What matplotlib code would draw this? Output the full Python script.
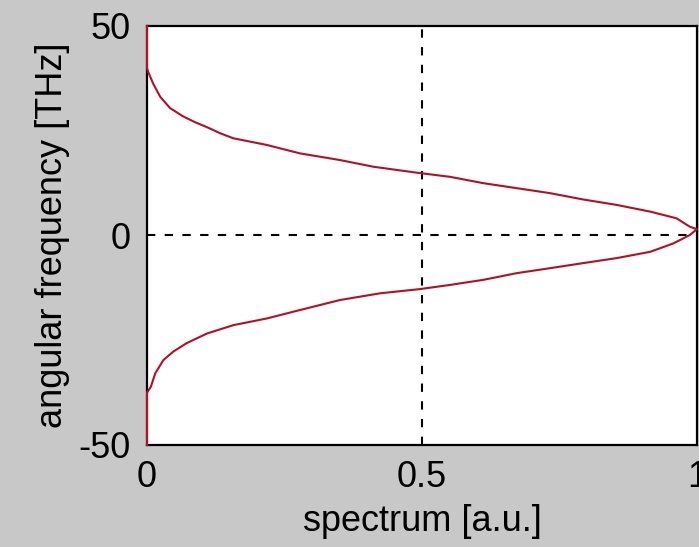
import matplotlib
matplotlib.use("Agg")
import matplotlib.pyplot as plt
import numpy as np

# spectrum values, top (50 THz) to bottom (-50 THz)
freq = [50, 45, 40, 39.1, 36.3, 33.1, 30.4, 28.4, 27.0, 25.8, 24.4, 23.2, 21.6, 19.6, 18.0,
        16.4, 15.0, 14.0, 12.5, 11.3, 10.1, 8.6, 7.3, 5.7, 4.1, 2.1, 1.5,
        0.1, -1.9, -3.9, -5.4, -6.6, -7.8, -9.0, -10.6, -11.8, -12.8, -13.8,
        -15.4, -17.8, -19.8, -21.4, -23.4, -25.7, -27.7, -29.7, -32.9, -36.1,
        -37.5, -45, -50]
spectrum = [0, 0, 0, 0.002, 0.011, 0.024, 0.042, 0.066, 0.088, 0.110, 0.133, 0.157, 0.218, 0.278, 0.351,
            0.412, 0.49, 0.551, 0.611, 0.672, 0.733, 0.793, 0.854, 0.915, 0.963, 0.987, 1.0,
            0.987, 0.957, 0.915, 0.854, 0.793, 0.733, 0.672, 0.611, 0.551, 0.496, 0.424,
            0.351, 0.278, 0.218, 0.157, 0.109, 0.072, 0.048, 0.030, 0.015, 0.007,
            0, 0, 0]

xticks = [0, 0.5, 1]
xticklabels = ["0", "0.5", "1"]
yticks = [-50, 0, 50]
yticklabels = ["-50", "0", "50"]

bg = "#c8c8c8"
font = ["Liberation Sans Narrow", "Liberation Sans", "DejaVu Sans"]

fig = plt.figure(figsize=(6.99, 5.47), dpi=100, facecolor=bg)
ax = fig.add_axes([0.2103, 0.1865, 0.997 - 0.2103, 0.9525 - 0.1865])
ax.set_facecolor("white")

ax.axvline(0.5, color="k", lw=1.5, dashes=(4, 4.5), zorder=1)
ax.axhline(0, color="k", lw=1.5, dashes=(4, 4.5), zorder=1)
ax.plot(spectrum, freq, color="#b01028", lw=1.5, clip_on=False, zorder=5)

ax.set_xlim(0, 1)
ax.set_ylim(-50, 50)
ax.set_xticks(xticks)
ax.set_xticklabels(xticklabels)
ax.set_yticks(yticks)
ax.set_yticklabels(yticklabels)
ax.tick_params(axis="x", length=0, pad=11, labelsize=26)
ax.tick_params(axis="y", length=0, pad=12, labelsize=26)
for lab in ax.get_xticklabels() + ax.get_yticklabels():
    lab.set_family(font)

for s in ax.spines.values():
    s.set_linewidth(1.6)
    s.set_color("k")

ax.set_xlabel("spectrum [a.u.]", fontsize=26, family=font, labelpad=6)
ax.set_ylabel("angular frequency [THz]", fontsize=26, family=font, labelpad=6)

fig.savefig("out.png", dpi=100, facecolor=bg)
